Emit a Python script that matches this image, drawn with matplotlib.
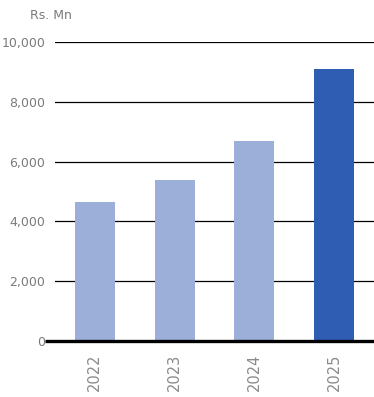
import matplotlib.pyplot as plt

years = ["2022", "2023", "2024", "2025"]
values = [4650, 5380, 6690, 9100]
colors = ["#9BAFD9", "#9BAFD9", "#9BAFD9", "#305DB4"]
yticks = [0, 2000, 4000, 6000, 8000, 10000]

plt.rcParams['font.family'] = ['Liberation Sans Narrow', 'DejaVu Sans']

fig = plt.figure(figsize=(3.74, 3.97), dpi=100)
ax = fig.add_axes([0.147, 0.141, 0.853, 0.753])

x = range(len(years))
ax.bar(x, values, width=0.5, color=colors, zorder=3)

# gridlines sit behind the bars
for t in yticks[1:]:
    ax.axhline(t, color="black", linewidth=0.9, zorder=1)
# baseline runs a little past the left of the plot area
ax.plot([-0.62, 3.5], [0, 0], color="black", linewidth=2.4, zorder=4,
        clip_on=False, solid_capstyle="butt")

ax.set_xlim(-0.5, 3.5)
ax.set_ylim(0, 10000)
ax.set_yticks(yticks)
ax.set_yticklabels([f"{t:,}" for t in yticks], color="#7a7a7a", fontsize=9)
ax.set_xticks(list(x))
ax.set_xticklabels(years, rotation=90, color="#8a8a8a", fontsize=10.5)
ax.tick_params(axis="y", length=0, pad=7)
ax.tick_params(axis="x", length=0, pad=9)

for s in ax.spines.values():
    s.set_visible(False)

fig.text(0.08, 0.96, "Rs. Mn", color="#7a7a7a", fontsize=9, va="center")

fig.savefig("out.png", dpi=100)
